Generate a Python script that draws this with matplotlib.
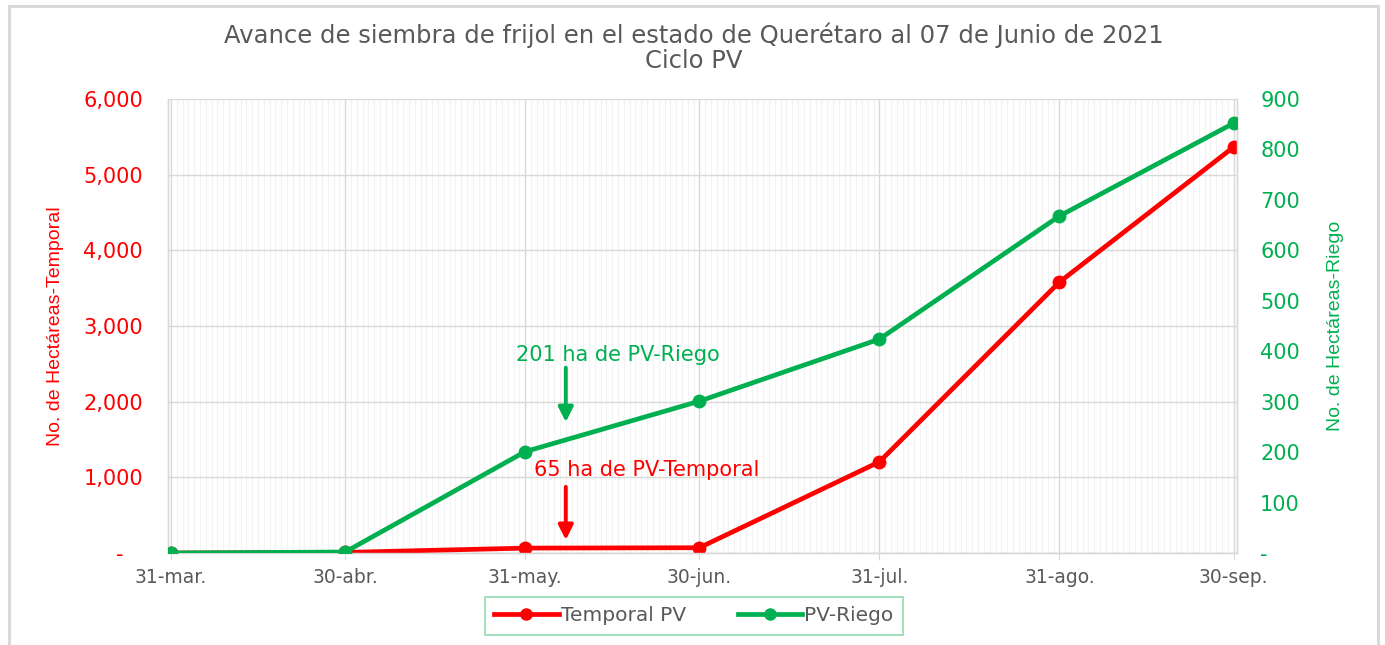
import matplotlib
matplotlib.use("Agg")
import matplotlib.pyplot as plt
import matplotlib.dates as mdates
from matplotlib.ticker import FuncFormatter, MultipleLocator
from matplotlib.lines import Line2D
from matplotlib.patches import Rectangle
import datetime as dt

# ---- data ----
fechas = ["2021-03-31", "2021-04-30", "2021-05-31", "2021-06-30",
          "2021-07-31", "2021-08-31", "2021-09-30"]
tick_labels = ["31-mar.", "30-abr.", "31-may.", "30-jun.", "31-jul.", "31-ago.", "30-sep."]
temporal = [0, 8, 65, 70, 1205, 3580, 5365]
riego = [0, 2, 201, 301, 424, 668, 852]

title = "Avance de siembra de frijol en el estado de Querétaro al 07 de Junio de 2021\nCiclo PV"

RED = "#FF0000"
GREEN = "#00B050"
GRAY = "#595959"

plt.rcParams['font.family'] = ['DejaVu Sans']

x = [dt.datetime.strptime(f, "%Y-%m-%d") for f in fechas]

fig = plt.figure(figsize=(13.85, 6.45), dpi=100)
ax = fig.add_axes([0.1213, 0.1426, 0.7715, 0.7039])
ax2 = ax.twinx()

# frame around chart
fig.patches.append(Rectangle((9/1385, -0.05), (1378-9)/1385, 1 - 6/645 + 0.05,
                             transform=fig.transFigure, fill=False,
                             edgecolor="#D9D9D9", lw=2.2, zorder=0))

l1, = ax.plot(x, temporal, color=RED, lw=3.4, marker='o', ms=9, zorder=5,
              solid_capstyle='round')
l2, = ax2.plot(x, riego, color=GREEN, lw=3.4, marker='o', ms=9, zorder=5,
               solid_capstyle='round')

x0 = x[0] - dt.timedelta(hours=12)
x1 = x[-1] + dt.timedelta(hours=12)
ax.set_xlim(x0, x1)
ax.set_ylim(0, 6000)
ax2.set_ylim(0, 900)

ax.set_xticks(x)
ax.set_xticklabels(tick_labels)
ax.xaxis.set_minor_locator(mdates.DayLocator())
ax.yaxis.set_major_locator(MultipleLocator(1000))
ax2.yaxis.set_major_locator(MultipleLocator(100))

ax.grid(which='major', axis='both', color="#D9D9D9", lw=1.0)
ax.grid(which='minor', axis='x', color="#F3F3F3", lw=0.9)
ax.set_axisbelow(True)

def fmt_left(v, p):
    return "-   " if abs(v) < 1e-9 else f"{v:,.0f}"

def fmt_right(v, p):
    return "-" if abs(v) < 1e-9 else f"{v:,.0f}"

ax.yaxis.set_major_formatter(FuncFormatter(fmt_left))
ax2.yaxis.set_major_formatter(FuncFormatter(fmt_right))

ax.tick_params(axis='y', which='both', length=0, labelsize=15, labelcolor=RED, pad=18)
ax2.tick_params(axis='y', which='both', length=0, labelsize=15, labelcolor=GREEN, pad=17)
ax.tick_params(axis='x', which='major', length=5, color="#D9D9D9", labelsize=13.5,
               labelcolor=GRAY, pad=6)
ax.tick_params(axis='x', which='minor', length=0)

for a in (ax, ax2):
    for s in a.spines.values():
        s.set_color("#D9D9D9")
        s.set_linewidth(1.0)
ax2.spines['top'].set_visible(False)
ax.spines['top'].set_visible(False)

ax.set_ylabel("No. de Hectáreas-Temporal", color=RED, fontsize=14,
              family=['Liberation Sans Narrow', 'Liberation Sans', 'DejaVu Sans'])
ax.yaxis.set_label_coords(-0.097, 0.5)
ax2.set_ylabel("No. de Hectáreas-Riego", color=GREEN, fontsize=14,
               family=['Liberation Sans Narrow', 'Liberation Sans', 'DejaVu Sans'])
ax2.yaxis.set_label_coords(1.085, 0.5)

fig.suptitle(title, x=0.501, y=0.965, fontsize=17.5, color=GRAY, linespacing=1.05)

# annotations
jun7 = dt.datetime(2021, 6, 7)
ax.annotate("", xy=(jun7, 1730), xytext=(jun7, 2450),
            arrowprops=dict(arrowstyle='-|>', color=GREEN, lw=2.8, mutation_scale=22,
                            shrinkA=0, shrinkB=0), zorder=6)
ax.text(dt.datetime(2021, 6, 16), 2620, "201 ha de PV-Riego", color=GREEN,
        fontsize=15, ha='center', va='center', zorder=6)
ax.annotate("", xy=(jun7, 172), xytext=(jun7, 875),
            arrowprops=dict(arrowstyle='-|>', color=RED, lw=2.8, mutation_scale=22,
                            shrinkA=0, shrinkB=0), zorder=6)
ax.text(dt.datetime(2021, 6, 21), 1100, "65 ha de PV-Temporal", color=RED,
        fontsize=15, ha='center', va='center', zorder=6)

handles = [Line2D([], [], color=RED, lw=3.4, marker='o', ms=8),
           Line2D([], [], color=GREEN, lw=3.4, marker='o', ms=8)]
leg = fig.legend(handles, ["Temporal PV", "PV-Riego"], loc='center',
                 bbox_to_anchor=(0.501, 0.045), ncol=2, frameon=True, fancybox=False,
                 fontsize=14.5, handlelength=3.2, columnspacing=2.6, borderpad=0.45,
                 labelcolor=GRAY, handletextpad=0.1, borderaxespad=0)
leg.get_frame().set_edgecolor("#7FD4A0")
leg.get_frame().set_linewidth(1.3)

fig.savefig("out.png", dpi=100)
